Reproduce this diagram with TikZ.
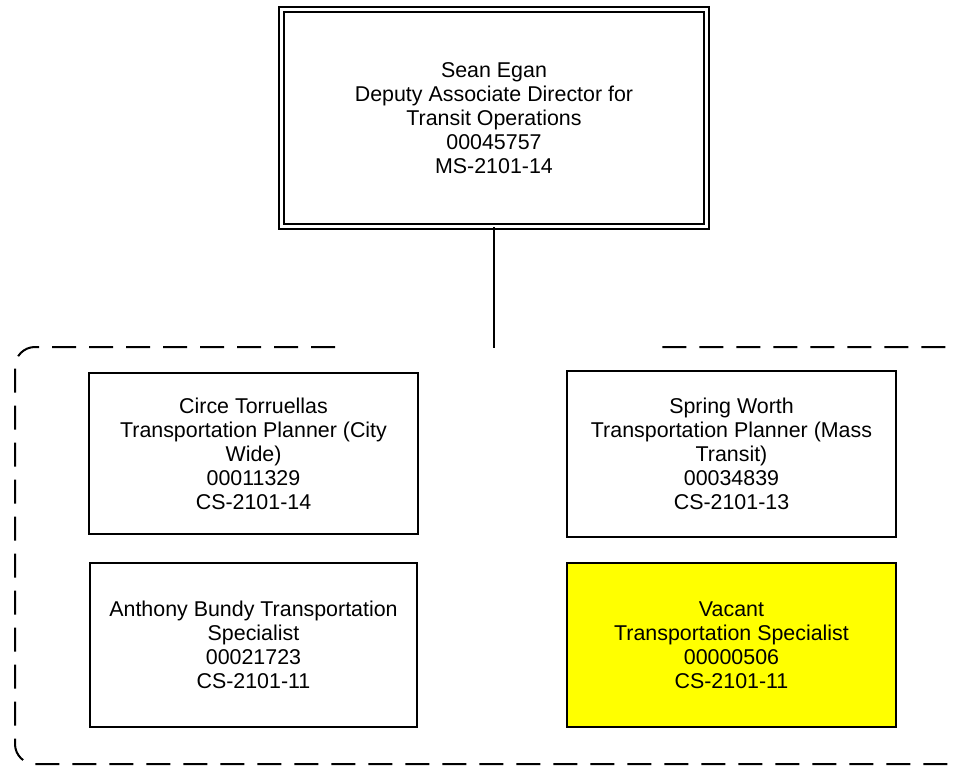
\documentclass[tikz,border=0pt]{standalone}
\usepackage{fontspec}
\setmainfont{Liberation Sans}
\definecolor{vacyellow}{RGB}{255,255,0}
\begin{document}
\begin{tikzpicture}[x=1pt,y=-1pt,
  txt/.style={align=center, font=\fontsize{21.4}{24}\selectfont, inner sep=0pt},
  posbox/.style={txt, draw, line width=2pt, minimum width=#1},
  posbox/.default=329pt,
  vacbox/.style={posbox, fill=vacyellow},
  topbox/.style={txt, draw, line width=2pt, double, double distance=3pt, minimum width=425pt, minimum height=217pt},
  grp/.style={line width=2pt, dash pattern=on 24pt off 13pt, rounded corners=20pt},
  conn/.style={line width=2pt}]
\useasboundingbox (0,0) rectangle (955,767);
\clip (0,0) rectangle (955,767);
\node[topbox] (top) at (494,118) {Sean Egan\\Deputy Associate Director for\\Transit Operations\\00045757\\MS-2101-14};
\node[posbox, minimum height=161pt] (circe) at (253.5,453.5) {Circe Torruellas\\Transportation Planner (City\\Wide)\\00011329\\CS-2101-14};
\node[posbox, minimum height=166pt] (spring) at (731.5,454) {Spring Worth\\Transportation Planner (Mass\\Transit)\\00034839\\CS-2101-13};
\node[posbox=327pt, minimum height=164pt] (anthony) at (253.5,645) {Anthony Bundy Transportation\\Specialist\\00021723\\CS-2101-11};
\node[vacbox, minimum height=164pt] (vacant) at (731.5,645) {Vacant\\Transportation Specialist\\00000506\\CS-2101-11};
\coordinate (joint) at (494,348);
\draw[conn] (top.south) -- (joint);
\draw[grp] (335,347) -- (15,347) -- (15,764) -- (975,764) -- (975,347) -- (655,347);
\end{tikzpicture}
\end{document}
